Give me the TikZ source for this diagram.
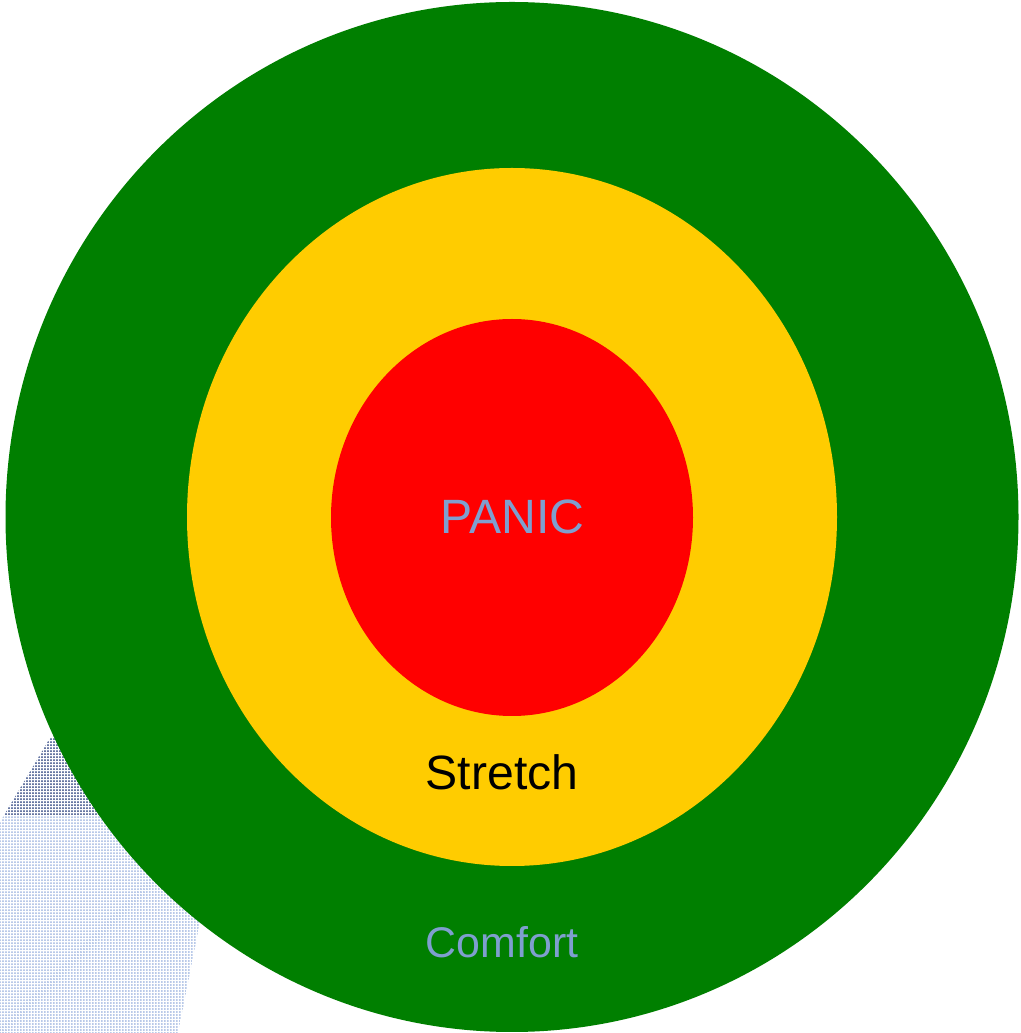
\documentclass[tikz,border=0pt]{standalone}
\usepackage{fontspec}
\setmainfont{Liberation Sans}
\usepackage{xcolor}
\usetikzlibrary{patterns.meta}

\definecolor{comfortgreen}{HTML}{007F00}
\definecolor{stretchyellow}{HTML}{FFCC00}
\definecolor{panicred}{HTML}{FF0000}
\definecolor{labelblue}{HTML}{7F9FCF}
\definecolor{dotlight}{HTML}{9FB6E0}
\definecolor{dotdark}{HTML}{4A5A88}

\tikzset{
  zonelabel/.style={inner sep=0pt, font=\fontsize{27.4}{30}\selectfont},
  shadowdots/.style={pattern={Dots[distance=0.06cm, radius=0.02cm]}, pattern color=#1}
}

\begin{document}
\begin{tikzpicture}
			\useasboundingbox (0,0) rectangle (20.4,20.66);
			% shadow behind the outer ring
			\fill[shadowdots=dotlight] (1.0,5.90) -- (0,4.22) -- (0,0) -- (3.56,0)
			-- (4.0,2.22) -- (5.2,3.66) -- (3.0,6.66) -- cycle;
			\begin{scope}
				\clip (0,4.36) rectangle (6,7);
				\fill[shadowdots=dotdark] (1.0,5.90) -- (0,4.22) -- (0,0) -- (3.56,0)
				-- (4.0,2.22) -- (5.2,3.66) -- (3.0,6.66) -- cycle;
			\end{scope}
			% zones
			\fill[comfortgreen] (10.24,10.32) ellipse [x radius=10.13, y radius=10.30];
			\fill[stretchyellow] (10.24,10.32) ellipse [x radius=6.50, y radius=6.98];
			\fill[panicred] (10.24,10.31) ellipse [x radius=3.62, y radius=3.97];
			\node[zonelabel, labelblue] (panic) at (10.25,10.32) {PANIC};
			\node[zonelabel, black] (stretch) at (10.04,5.22) {Stretch};
			\node[zonelabel, labelblue, font=\fontsize{24.4}{27}\selectfont] (comfort) at (10.04,1.82) {Comfort};
		\end{tikzpicture}
\end{document}
